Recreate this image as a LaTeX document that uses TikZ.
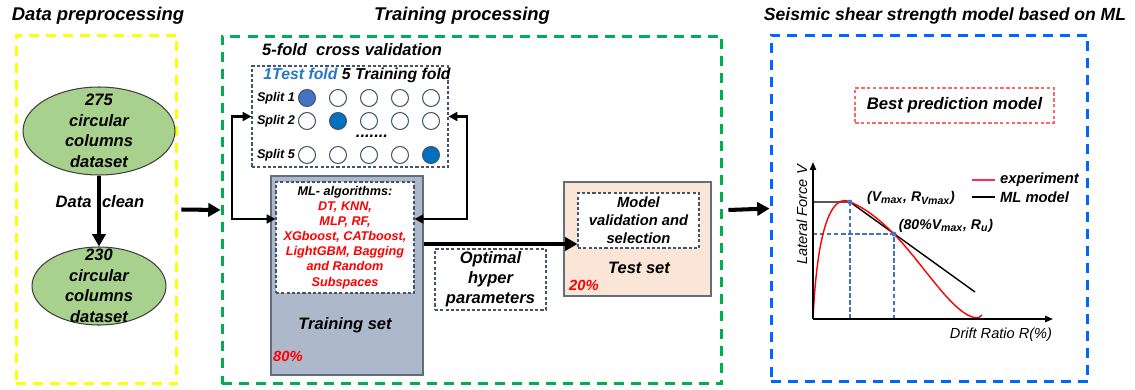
\documentclass[tikz,border=0pt]{standalone}
\usepackage{fontspec}
\setmainfont{Liberation Sans}
\usetikzlibrary{arrows.meta,positioning,shapes.geometric}
\definecolor{PrepYellow}{RGB}{255,255,0}
\definecolor{TrainGreen}{RGB}{0,176,80}
\definecolor{ModelBlue}{RGB}{0,102,255}
\definecolor{SlateGray}{RGB}{68,84,106}
\definecolor{SetGray}{RGB}{173,185,202}
\definecolor{TestPeach}{RGB}{251,229,214}
\definecolor{LeafGreen}{RGB}{169,209,142}
\definecolor{FoldBlue}{RGB}{0,112,192}
\definecolor{FoldBlueLight}{RGB}{68,114,196}
\definecolor{TestFoldText}{RGB}{35,120,200}
\definecolor{AlgoRed}{RGB}{255,0,0}
\definecolor{ExpPink}{RGB}{255,40,100}
\definecolor{BestRed}{RGB}{255,102,102}
\definecolor{GuideBlue}{RGB}{68,114,196}
\newcommand{\bfit}{\bfseries\itshape}
\newcommand{\fsz}[2]{\fontsize{#1}{#2}\selectfont}
\newcommand{\foldrow}[4]{%
  \foreach \x [count=\k] in {307,338,369,400,431}{
    \ifnum\k=#3\relax
      \node[fold,fill=#4] (#2-\k) at (\x,#1) {};
    \else
      \node[fold] (#2-\k) at (\x,#1) {};
    \fi}}

\begin{document}
\begin{tikzpicture}[x=0.02cm,y=-0.02cm,
  every node/.style={font=\fsz{9.4}{11.5}\bfit,inner sep=1pt},
  title/.style={font=\fsz{10.5}{12}\bfit},
  stagebox/.style={draw=#1,dash pattern=on 5.7pt off 4pt,line width=1.7pt},
  subbox/.style={draw=SlateGray,dash pattern=on 1.8pt off 1.2pt,line width=0.6pt,align=center},
  setbox/.style={draw=SlateGray!85,line width=0.8pt},
  dataset/.style={ellipse,draw=black!75,fill=LeafGreen,line width=0.6pt,inner sep=0pt},
  settext/.style={align=center,font=\fsz{9.4}{11.7}\bfit},
  fold/.style={circle,draw=SlateGray,fill=white,line width=0.6pt,minimum size=0.34cm,inner sep=0pt},
  splitlbl/.style={font=\fsz{7.2}{8}\bfit},
  pct/.style={text=AlgoRed,font=\fsz{8.4}{9}\bfit},
  bestbox/.style={draw=BestRed,dash pattern=on 2pt off 1.3pt,line width=0.7pt,font=\fsz{9.5}{11}\bfit},
  bigarrow/.style={-{Triangle[length=7pt,width=7.5pt]},line width=2.3pt},
  looparrow/.style={{Triangle[length=5pt,width=5pt]}-{Triangle[length=5pt,width=5pt]},line width=1.6pt},
  axis/.style={-{Triangle[length=4.5pt,width=3.5pt]},line width=0.9pt},
  guide/.style={GuideBlue,dash pattern=on 2.5pt off 1.5pt,line width=0.6pt},
  mlline/.style={black,line width=0.8pt},
  expline/.style={AlgoRed,line width=0.8pt},
  axislbl/.style={font=\fsz{8.3}{10}\itshape},
  pointlbl/.style={font=\fsz{8}{9}\bfit},
  legendlbl/.style={font=\fsz{8.4}{10}\bfit,anchor=west}]
\useasboundingbox (0,0) rectangle (1135,389);

% three stages
\node[stagebox=PrepYellow,minimum width=3.22cm,minimum height=6.98cm] (prep) at (96.5,209.5) {};
\node[stagebox=TrainGreen,minimum width=10cm,minimum height=6.96cm] (train) at (472,210) {};
\node[stagebox=ModelBlue,minimum width=6.34cm,minimum height=6.94cm] (model) at (929.5,208.5) {};
\node[title] (preptitle) at (98,16) {Data preprocessing};
\node[title] (traintitle) at (462,16) {Training processing};
\node[title,font=\fsz{10}{12}\bfit] (modeltitle) at (945,16) {Seismic shear strength model based on ML};
\draw[bigarrow] ([xshift=0.06cm]prep.east) -- (train.west);
\draw[bigarrow] ([xshift=0.1cm]train.east) -- (model.west);

% data preprocessing
\node[dataset,minimum width=3.04cm,minimum height=1.76cm] (raw) at (99,131) {};
\node[settext] (rawtxt) at (raw) {275\\circular\\columns\\dataset};
\node[dataset,minimum width=2.68cm,minimum height=1.56cm] (clean) at (99,286) {};
\node[settext] (cleantxt) at (clean) {230\\circular\\columns\\dataset};
\draw[bigarrow] (raw) -- (clean);
\node[settext] (cleanlbl) at (100,202) {Data\hspace{6pt}clean};

% cross validation
\node (cvtitle) at (352,50) {5-fold\ \ cross validation};
\node[subbox,minimum width=3.92cm,minimum height=2.02cm] (cv) at (350,116.5) {};
\node[font=\fsz{9}{10}\bfit] (foldlbl) at (357,75) {\textcolor{TestFoldText}{1Test fold} 5 Training fold};
\foldrow{98}{r1}{1}{FoldBlueLight}
\foldrow{121}{r2}{2}{FoldBlue}
\foldrow{155}{r5}{5}{FoldBlue}
\node[splitlbl,left=0.5pt of r1-1] (sp1) {Split 1};
\node[splitlbl,left=0.5pt of r2-1] (sp2) {Split 2};
\node[splitlbl,left=0.5pt of r5-1] (sp5) {Split 5};
\node (more) at (372,136) {.......};

% training set
\node[setbox,fill=SetGray,minimum width=3.04cm,minimum height=3.98cm] (trainset) at (347,275.5) {};
\node[subbox,fill=white,minimum width=2.76cm,minimum height=2.22cm,font=\fsz{7.2}{8.6}\bfit] (ml) at (345,237.5)
  {ML- algorithms:\\\textcolor{AlgoRed}{DT, KNN,}\\\textcolor{AlgoRed}{MLP, RF,}\\
   \textcolor{AlgoRed}{XGboost, CATboost,}\\\textcolor{AlgoRed}{LightGBM, Bagging}\\
   \textcolor{AlgoRed}{and Random}\\\textcolor{AlgoRed}{Subspaces}};
\node (trainsetlbl) at (345,325) {Training set};
\node[pct] (trainpct) at (288,356) {80\%};

\coordinate (lbend) at (232,219);
\coordinate (rbend) at (467,219);
\draw[looparrow] (cv.west) -| (lbend) -- (lbend -| ml.west);
\draw[looparrow] (cv.east) -| (rbend) -- (rbend -| ml.east);

% test set
\node[setbox,fill=TestPeach,minimum width=2.94cm,minimum height=2.28cm] (testset) at (637.5,239) {};
\node[subbox,fill=white,minimum width=2.42cm,minimum height=1.1cm,font=\fsz{8.4}{10.2}\bfit] (mv) at (638.5,220.5)
  {Model\\validation and\\selection};
\node (testlbl) at (639,268) {Test set};
\node[pct] (testpct) at (584,285) {20\%};

\coordinate (hpy) at (0,244);
\draw[bigarrow] (trainset.east |- hpy) -- (mv.west |- hpy);
\node[subbox,minimum width=2.22cm,minimum height=1.22cm] (hyper) at (490.5,279.5) {Optimal\\hyper\\parameters};

% best model curve
\node[bestbox,minimum width=3.98cm,minimum height=0.7cm] (best) at (954.5,105.5) {Best prediction model};
\coordinate (O) at (813,319);
\coordinate (ytop) at (813,162);
\coordinate (xend) at (1053,319);
\coordinate (vmax) at (850,202);
\coordinate (vu) at (894,234);
\coordinate (mlend) at (975,292);
\draw[guide] (vmax) -- (vmax |- O);
\draw[guide] (O |- vu) -- (vu) -- (vu |- O);
\draw[mlline] (O |- vmax) -- (vmax) -- (mlend);
\draw[expline] (O) .. controls (818,212) and (836,195) .. (vmax)
  .. controls (866,208) and (882,222) .. (vu)
  .. controls (925,266) and (955,318) .. (978,318) -- (982,315);
\draw[axis] (O) -- (ytop);
\draw[axis] (O) -- (xend);
\fill[GuideBlue] (vmax) circle (2.4);
\fill[GuideBlue] (vu) circle (2.4);
\node[pointlbl] (vmaxlbl) at (911,198) {(V\textsubscript{max}, R\textsubscript{Vmax})};
\node[pointlbl] (vulbl) at (946,226) {(80\%V\textsubscript{max}, R\textsubscript{u})};
\node[axislbl,rotate=90] (ylbl) at (802,215) {Lateral Force V};
\node[axislbl] (xlbl) at (1001,335) {Drift Ratio R(\%)};
\node[legendlbl] (explbl) at (998,180) {experiment};
\node[legendlbl] (mllbl) at (998,197) {ML model};
\draw[ExpPink,line width=0.8pt] ([xshift=-0.52cm]explbl.west) -- ([xshift=-0.06cm]explbl.west);
\draw[mlline] ([xshift=-0.52cm]mllbl.west) -- ([xshift=-0.06cm]mllbl.west);
\end{tikzpicture}
\end{document}
